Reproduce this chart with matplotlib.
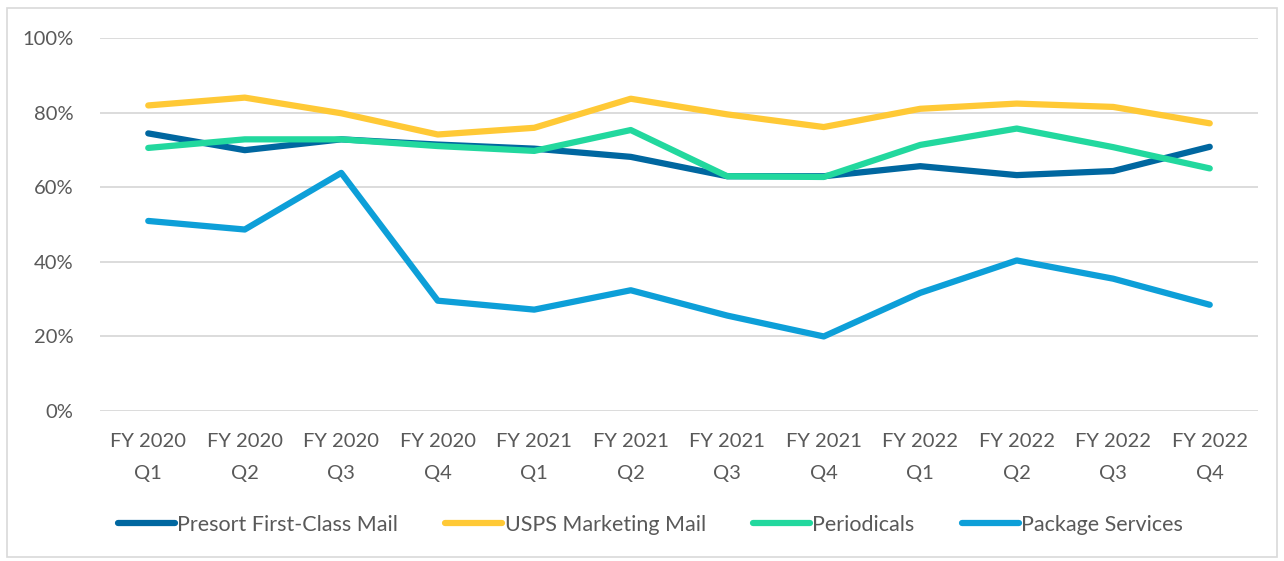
import numpy as np
import matplotlib.pyplot as plt
from matplotlib.patches import Rectangle
from matplotlib.ticker import PercentFormatter

plt.rcParams['font.family'] = ['Lato', 'DejaVu Sans']

quarters = ['FY 2020\nQ1', 'FY 2020\nQ2', 'FY 2020\nQ3', 'FY 2020\nQ4',
            'FY 2021\nQ1', 'FY 2021\nQ2', 'FY 2021\nQ3', 'FY 2021\nQ4',
            'FY 2022\nQ1', 'FY 2022\nQ2', 'FY 2022\nQ3', 'FY 2022\nQ4']

presort_fcm = [74.4, 69.9, 72.8, 71.4, 70.3, 68.1, 62.9, 62.9, 65.6, 63.2, 64.3, 70.8]
marketing_mail = [81.9, 84.0, 79.8, 74.1, 75.9, 83.7, 79.5, 76.1, 81.0, 82.4, 81.5, 77.1]
periodicals = [70.5, 72.8, 72.8, 71.0, 69.7, 75.3, 62.9, 62.7, 71.3, 75.7, 70.7, 65.0]
package_services = [50.9, 48.6, 63.8, 29.5, 27.1, 32.3, 25.5, 19.9, 31.6, 40.3, 35.4, 28.4]

series_names = ['Presort First-Class Mail', 'USPS Marketing Mail', 'Periodicals', 'Package Services']
colors = ['#0067A0', '#FFC936', '#22D89E', '#0D9FD8']

fig = plt.figure(figsize=(12.84, 5.61), dpi=100)
ax = fig.add_axes([100 / 1284, 1 - 410.6 / 561, 1158 / 1284, 372.6 / 561])

x = np.arange(len(quarters))
for vals, name, c in zip([presort_fcm, marketing_mail, periodicals, package_services], series_names, colors):
    ax.plot(x, vals, color=c, lw=4.5, label=name, solid_capstyle='round', solid_joinstyle='round')

ax.set_xlim(-0.5, len(quarters) - 0.5)
ax.set_ylim(0, 100)
ax.set_yticks(np.arange(0, 101, 20))
ax.yaxis.set_major_formatter(PercentFormatter(decimals=0))
ax.set_xticks(x)
ax.set_xticklabels(quarters, linespacing=2.1)
ax.grid(axis='y', color='#D9D9D9', lw=1.3)
ax.set_axisbelow(True)
for s in ax.spines.values():
    s.set_visible(False)
ax.tick_params(length=0, labelsize=14.5, colors='#595959', pad=16)
ax.tick_params(axis='y', pad=19)

fig.legend(loc='center', bbox_to_anchor=(0.5066, 1 - 525 / 561), ncol=4, frameon=False,
           fontsize=15.5, labelcolor='#595959', handlelength=2.65, handletextpad=0.1,
           columnspacing=2.2)

fig.patches.append(Rectangle((7 / 1284, 4 / 561), 1270 / 1284, 549 / 561, transform=fig.transFigure,
                             fill=False, edgecolor='#D9D9D9', lw=1.2))

fig.savefig('out.png', dpi=100, facecolor='white')
